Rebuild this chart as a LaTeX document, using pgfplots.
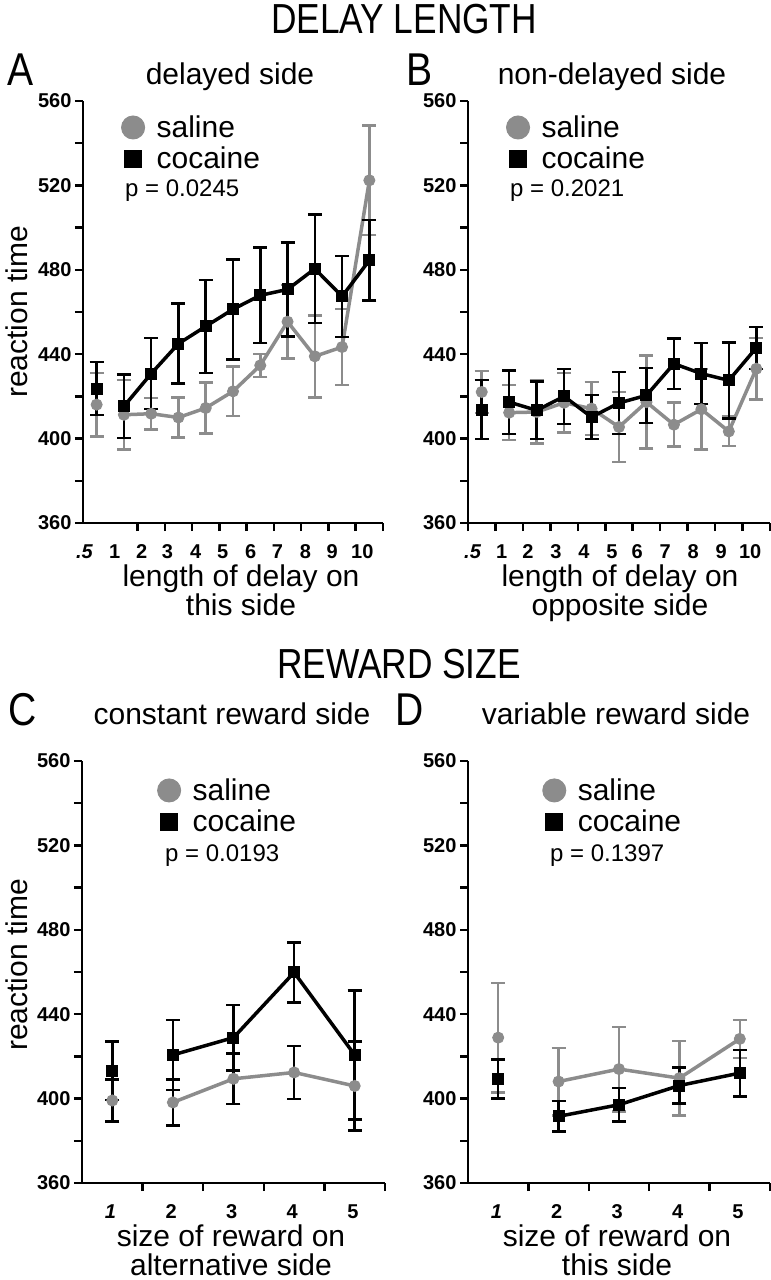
\documentclass[border=0pt]{standalone}
\usepackage{fontspec}
\setmainfont{Liberation Sans}
\usepackage{pgfplots}
\pgfplotsset{compat=1.18}
\definecolor{salgray}{RGB}{140,140,140}

% one pixel of the reference = 1pt
\pgfplotsset{
  panel/.style={
    scale only axis, anchor=south west, clip=false,
    height=422pt, ymin=360, ymax=560,
    axis lines=left, axis line style={-, line width=2.5pt},
    tick align=outside, major tick length=8pt,
    major tick style={line width=2.5pt, black},
    ytick={360,380,...,560},
    yticklabels={360,,400,,440,,480,,520,,560},
    xticklabels={},
    ticklabel style={font=\fontsize{20}{20}\selectfont\bfseries},
    extra x tick style={major tick length=0pt, xticklabel style={yshift=-18pt}},
    legend style={draw=none, fill=none, anchor=north west,
      font=\fontsize{30}{30}\selectfont, inner sep=0pt, row sep=4pt,
      /tikz/column 1/.style={column sep=10pt}},
    legend cell align=left,
  },
  saline/.style={color=salgray, line width=3.5pt, mark=*, mark size=5.5pt,
    mark options={line width=1pt, fill=salgray, draw=salgray},
    legend image code/.code={\draw[##1, mark size=11.5pt] plot coordinates {(0,0)};},
    error bars/y dir=both, error bars/y explicit,
    error bars/error bar style={line width=2.5pt, draw=#1},
    error bars/error mark options={rotate=90, line width=2.5pt, mark size=7pt, draw=#1}},
  cocaine/.style={color=black, line width=3.5pt, mark=square*, mark size=5.5pt,
    mark options={line width=1pt, fill=black, draw=black},
    legend image code/.code={\draw[##1, mark size=8.5pt] plot coordinates {(0,0)};},
    error bars/y dir=both, error bars/y explicit,
    error bars/error bar style={line width=2.5pt, draw=black},
    error bars/error mark options={rotate=90, line width=2.5pt, mark size=7pt, draw=black}},
}

\begin{document}
\begin{tikzpicture}
\path[use as bounding box] (0,0) rectangle (771pt,-1280pt);

% ---------------- A: delayed side
\begin{axis}[panel, at={(83pt,-523pt)}, width=300pt,
  xmin=-0.5, xmax=10.5, xtick={1.5,2.5,...,10.5},
  extra x ticks={-0.44,0.66,1.65,2.6,3.63,4.62,5.65,6.63,7.66,8.64,9.74},
  extra x tick labels={\textit{.5},1,2,3,4,5,6,7,8,9,10},
  legend style={at={(axis description cs:0.128,0.970)}}]
\addplot[saline=salgray, forget plot] coordinates {(0,416.1) +- (0,15)};
\addplot[saline=salgray] coordinates {
  (1,411.3) +- (0,16.5) (2,411.8) +- (0,7.5) (3,410) +- (0,9.5) (4,414.5) +- (0,12)
  (5,422.4) +- (0,11.7) (6,434.7) +- (0,5.4) (7,455.4) +- (0,17.5) (8,439) +- (0,19.4)
  (9,443.4) +- (0,18) (10,522.4) +- (0,26)};
\addplot[cocaine, forget plot] coordinates {(0,423.7) +- (0,12.6)};
\addplot[cocaine] coordinates {
  (1,415.3) +- (0,15) (2,430.8) +- (0,16.8) (3,445) +- (0,19) (4,453.2) +- (0,22)
  (5,461.3) +- (0,23.7) (6,467.9) +- (0,22.7) (7,470.7) +- (0,22.3) (8,480.5) +- (0,25.6)
  (9,467.4) +- (0,19.2) (10,484.5) +- (0,19)};
\legend{saline,cocaine}
\end{axis}

% ---------------- B: non-delayed side
\begin{axis}[panel, at={(468pt,-523pt)}, width=302pt,
  xmin=-0.5, xmax=10.5, xtick={-0.5,0.5,...,10.5},
  extra x ticks={-0.33,0.73,1.68,2.7,3.72,4.74,5.66,6.68,7.7,8.72,9.78},
  extra x tick labels={\textit{.5},1,2,3,4,5,6,7,8,9,10},
  legend style={at={(axis description cs:0.127,0.970)}}]
\addplot[saline=salgray, forget plot] coordinates {(0,422.1) +- (0,10)};
\addplot[saline=salgray] coordinates {
  (1,412.3) +- (0,13) (2,412.6) +- (0,15) (3,417) +- (0,14) (4,414.2) +- (0,12.6)
  (5,405.5) +- (0,16.7) (6,417.3) +- (0,22) (7,406.6) +- (0,10.4) (8,413.9) +- (0,19)
  (9,403.4) +- (0,7) (10,433.1) +- (0,14.6)};
\addplot[cocaine, forget plot] coordinates {(0,413.7) +- (0,14)};
\addplot[cocaine] coordinates {
  (1,417.3) +- (0,15) (2,413.4) +- (0,13.7) (3,420) +- (0,13) (4,410.2) +- (0,10.5)
  (5,416.9) +- (0,14.6) (6,420.5) +- (0,13) (7,435.5) +- (0,12) (8,430.8) +- (0,14.5)
  (9,427.6) +- (0,18) (10,443) +- (0,10)};
\legend{saline,cocaine}
\end{axis}

% ---------------- C: constant reward side
\begin{axis}[panel, at={(82pt,-1183pt)}, width=303pt,
  xmin=0.5, xmax=5.5, xtick={1.5,2.5,3.5,4.5,5.5},
  extra x ticks={0.97,1.97,2.97,3.97,4.97},
  extra x tick labels={\textit{1},2,3,4,5},
  legend style={at={(axis description cs:0.249,0.963)}}]
\addplot[saline=black, forget plot] coordinates {(1,399.1) +- (0,10)};
\addplot[saline=black] coordinates {
  (2,398.2) +- (0,10.9) (3,409.4) +- (0,12) (4,412.4) +- (0,12.6) (5,406) +- (0,21)};
\addplot[cocaine, forget plot] coordinates {(1,413.2) +- (0,13.8)};
\addplot[cocaine] coordinates {
  (2,420.7) +- (0,16.5) (3,428.9) +- (0,15.5) (4,459.8) +- (0,14.3) (5,420.7) +- (0,30.5)};
\legend{saline,cocaine}
\end{axis}

% ---------------- D: variable reward side
\begin{axis}[panel, at={(468pt,-1183pt)}, width=302pt,
  xmin=0.5, xmax=5.5, xtick={1.5,2.5,3.5,4.5,5.5},
  extra x ticks={0.97,1.97,2.97,3.97,4.97},
  extra x tick labels={\textit{1},2,3,4,5},
  legend style={at={(axis description cs:0.247,0.963)}}]
\addplot[saline=salgray, forget plot] coordinates {(1,428.9) +- (0,26)};
\addplot[saline=salgray] coordinates {
  (2,408.1) +- (0,16) (3,414) +- (0,20) (4,409.7) +- (0,17.6) (5,428.3) +- (0,9)};
\addplot[cocaine, forget plot] coordinates {(1,409.3) +- (0,9.3)};
\addplot[cocaine] coordinates {
  (2,391.6) +- (0,7.3) (3,397.1) +- (0,8) (4,406.2) +- (0,8.5) (5,412.1) +- (0,11)};
\legend{saline,cocaine}
\end{axis}

% ---------------- titles and labels
\tikzset{big/.style={font=\fontsize{30}{30}\selectfont, inner sep=0pt},
         letter/.style={font=\fontsize{46}{46}\selectfont, inner sep=0pt},
         pval/.style={font=\fontsize{24}{24}\selectfont, inner sep=0pt, anchor=base west}}
\node[font=\fontsize{42}{42}\selectfont, inner sep=0pt] at (404pt,-19pt) {\scalebox{0.84}[1]{DELAY LENGTH}};
\node[font=\fontsize{42}{42}\selectfont, inner sep=0pt] at (399pt,-664pt) {\scalebox{0.84}[1]{REWARD SIZE}};
\node[letter] at (21pt,-70pt) {\scalebox{0.85}[1]{A}};
\node[letter] at (420pt,-70pt) {\scalebox{0.85}[1]{B}};
\node[letter] at (23pt,-710pt) {\scalebox{0.85}[1]{C}};
\node[letter] at (410pt,-710pt) {\scalebox{0.85}[1]{D}};

\node[big, anchor=base] at (230pt,-84pt) {delayed side};
\node[big, anchor=base] at (612pt,-84pt) {non-delayed side};
\node[big, anchor=base] at (232pt,-724pt) {constant reward side};
\node[big, anchor=base] at (616pt,-724pt) {variable reward side};

\node[big, rotate=90] at (17pt,-312pt) {reaction time};
\node[big, rotate=90] at (17pt,-965pt) {reaction time};

\node[big, anchor=base] at (241pt,-586pt) {length of delay on};
\node[big, anchor=base] at (241pt,-615pt) {this side};
\node[big, anchor=base] at (620pt,-586pt) {length of delay on};
\node[big, anchor=base] at (620pt,-615pt) {opposite side};
\node[big, anchor=base] at (231pt,-1246pt) {size of reward on};
\node[big, anchor=base] at (231pt,-1275pt) {alternative side};
\node[big, anchor=base] at (617pt,-1246pt) {size of reward on};
\node[big, anchor=base] at (617pt,-1275pt) {this side};

\node[pval] at (125pt,-196pt) {p = 0.0245};
\node[pval] at (510pt,-196pt) {p = 0.2021};
\node[pval] at (165pt,-861pt) {p = 0.0193};
\node[pval] at (550pt,-861pt) {p = 0.1397};
\end{tikzpicture}
\end{document}
